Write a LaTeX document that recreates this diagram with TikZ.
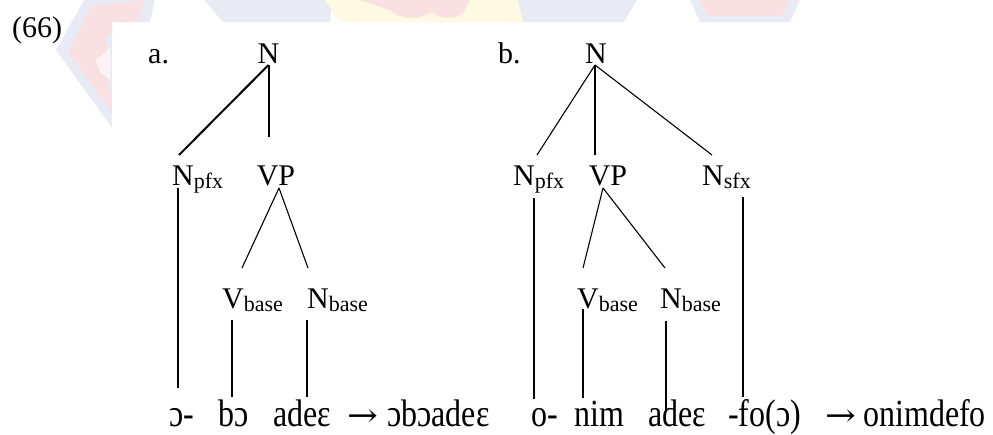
\documentclass[tikz,border=0pt]{standalone}
\usepackage{fontspec}
\setmainfont{Liberation Serif}
\newfontfamily\arrowfont{DejaVu Serif}
\usetikzlibrary{calc}

\definecolor{wmblue}{HTML}{E9EBF4}
\definecolor{wmpink}{HTML}{F9E0E2}
\definecolor{wmyellow}{HTML}{FDF9E3}

% subscript attached to a category label
\newcommand\catsub[1]{\raisebox{-3pt}{\fontsize{22}{26}\selectfont #1}}
% the words of the bottom line are set a little taller than wide
\newcommand\tallword[1]{\scalebox{1}[1.2]{#1}}
% a long thin arrow between base form and output
\newcommand\yields{\scalebox{1.15}[1]{\arrowfont →}}

\tikzset{
  cat/.style={inner sep=0pt, font=\fontsize{30}{36}\selectfont},
  word/.style={inner sep=0pt, anchor=base west, font=\fontsize{32}{38}\selectfont},
  branch/.style={line width=1.1pt},
  heavy/.style={line width=2pt},
}

\begin{document}
\begin{tikzpicture}[x=1pt,y=-1pt]
\useasboundingbox (0,0) rectangle (993,434);

% faint emblem in the page background
\begin{scope}
  \clip (0,0) rectangle (993,22) (0,0) rectangle (112,133);
  \fill[wmblue] (56,50) -- (84,0) -- (155,0) -- (150,22) -- (112,40) -- (112,128) -- cycle;
  \fill[wmpink] (68,52) -- (92,6) -- (145,0) -- (140,18) -- (106,36) -- (112,112) -- cycle;
  \fill[white!60!wmpink] (96,60) -- (110,48) -- (110,80) -- (100,72) -- cycle;
  \fill[wmblue] (204,0) -- (332,0) -- (330,22) -- (223,22) -- cycle;
  \fill[wmyellow] (325,0) -- (518,0) -- (523,22) -- (340,22) -- cycle;
  \fill[wmpink] (360,0) -- (470,0) -- (465,10) .. controls (460,20) and (440,20) .. (432,12)
               .. controls (420,20) and (400,20) .. (390,10) -- cycle;
  \fill[wmblue] (518,0) -- (637,0) -- (624,22) -- (523,22) -- cycle;
  \fill[wmblue] (690,0) -- (800,0) -- (790,22) -- (700,22) -- cycle;
  \fill[wmpink] (700,0) -- (790,0) -- (782,16) -- (708,16) -- cycle;
\end{scope}

\node[anchor=base west, inner sep=0pt, font=\fontsize{30}{36}\selectfont] (exno) at (12,37) {(66)};

% ---------- tree a ----------
\node[cat, anchor=base west] (alab) at (148,63) {a.};
\node[cat, anchor=base] (aN) at (268.5,63) {N};
\node[cat, anchor=base west] (aNp) at (172,185) {N\catsub{pfx}};
\node[cat, anchor=base] (aVP) at (276,185) {VP};
\node[cat, anchor=base west] (aVb) at (222,308) {V\catsub{base}};
\node[cat, anchor=base west] (aNb) at (307,308) {N\catsub{base}};

\node[word] (aw1) at (169,426) {\tallword{ɔ-}};
\node[word] (aw2) at (218,426) {\tallword{bɔ}};
\node[word] (aw3) at (273,426) {\tallword{adeɛ}};
\node[word] (aarr) at (347,426) {\yields};
\node[word] (aout) at (387,426) {\tallword{ɔbɔadeɛ}};

\draw[heavy] ($(aN.base)+(0,2)$) -- ($(aNp.base west)+(7,-30)$);
\draw[branch] ($(aN.base)+(0.5,2)$) -- ($(aVP.base)+(-7,-48)$);
\draw[branch] ($(aNp.base west)+(6,3)$) -- ($(aw1.base west)+(9,-38)$);
\draw[branch] ($(aVP.base)+(3,3)$) -- ($(aVb.base west)+(20,-40)$);
\draw[branch] ($(aVP.base)+(3,3)$) -- ($(aNb.base west)+(1,-40)$);
\draw[branch] ($(aVb.base west)+(10,12)$) -- ($(aw2.base west)+(14,-29)$);
\draw[branch] ($(aNb.base west)+(0,12)$) -- ($(aw3.base west)+(34,-29)$);

% ---------- tree b ----------
\node[cat, anchor=base west] (blab) at (498,63) {b.};
\node[cat, anchor=base] (bN) at (596,63) {N};
\node[cat, anchor=base west] (bNp) at (513,185) {N\catsub{pfx}};
\node[cat, anchor=base] (bVP) at (608,185) {VP};
\node[cat, anchor=base west] (bNs) at (702,185) {N\catsub{sfx}};
\node[cat, anchor=base west] (bVb) at (577,308) {V\catsub{base}};
\node[cat, anchor=base west] (bNb) at (660,308) {N\catsub{base}};

\node[word] (bw1) at (531,426) {\tallword{o-}};
\node[word] (bw2) at (574,426) {\tallword{nim}};
\node[word] (bw3) at (648,426) {\tallword{adeɛ}};
\node[word] (bw4) at (728,426) {\tallword{-fo(ɔ)}};
\node[word] (barr) at (825,426) {\yields};
\node[word] (bout) at (863,426) {\tallword{onimdefo}};

\draw[branch] ($(bN.base)+(-1,2)$) -- ($(bNp.base west)+(24,-30)$);
\draw[branch] ($(bN.base)+(-1,2)$) -- ($(bVP.base)+(-13,-30)$);
\draw[branch] ($(bN.base)+(-1,2)$) -- ($(bNs.base west)+(10,-30)$);
\draw[branch] ($(bNp.base west)+(21,13)$) -- ($(bw1.base west)+(3,-27)$);
\draw[branch] ($(bVP.base)+(-5,3)$) -- ($(bVb.base west)+(6,-40)$);
\draw[branch] ($(bVP.base)+(-5,3)$) -- ($(bNb.base west)+(5,-40)$);
\draw[branch] ($(bVb.base west)+(6,1)$) -- ($(bw2.base west)+(9,-28)$);
\draw[branch] ($(bNb.base west)+(6,13)$) -- ($(bw3.base west)+(18,-16)$);
\draw[branch] ($(bNs.base west)+(41,12)$) -- ($(bw4.base west)+(15,-29)$);
\end{tikzpicture}
\end{document}
